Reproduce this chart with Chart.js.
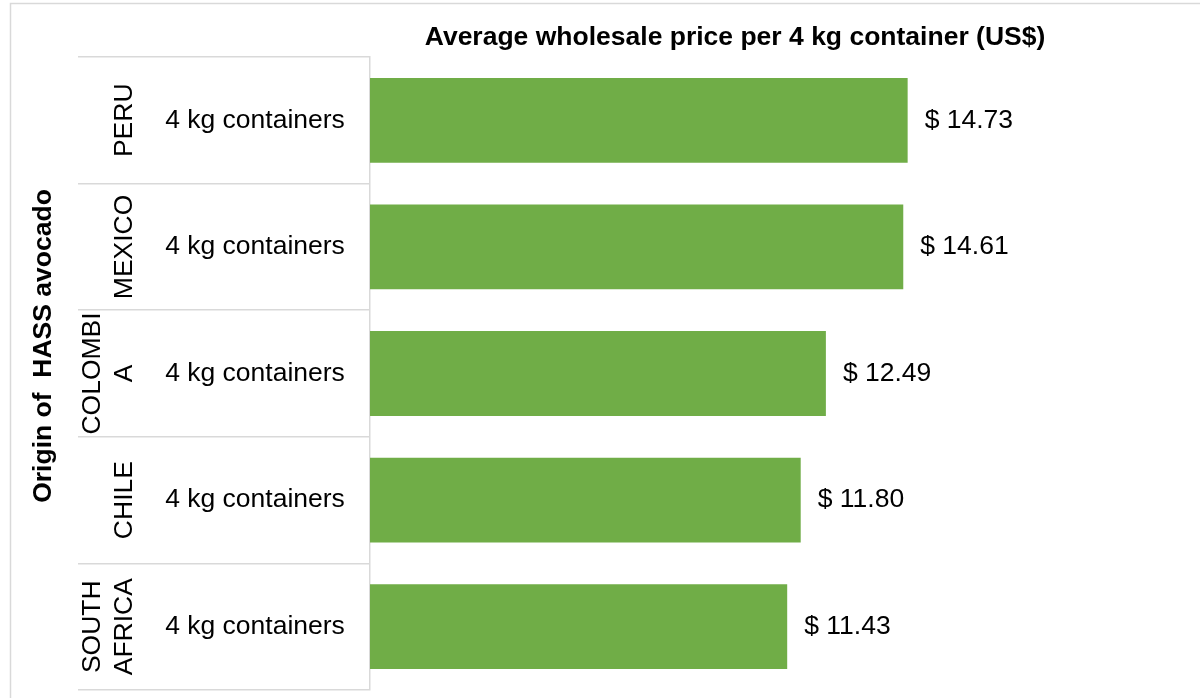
<!DOCTYPE html>
<html>
<head>
<meta charset="utf-8">
<title>HASS avocado wholesale price</title>
<script src="https://cdn.jsdelivr.net/npm/chart.js@4"></script>
<style>
  html, body { margin: 0; padding: 0; background: #ffffff; }
  canvas { display: block; }
</style>
</head>
<body>
<canvas id="priceChart" width="1200" height="698"></canvas>
<script>
/* Chart data */
const countries = ['PERU', 'MEXICO', 'COLOMBIA', 'CHILE', 'SOUTH AFRICA'];
const countryLines = [['PERU'], ['MEXICO'], ['COLOMBI', 'A'], ['CHILE'], ['SOUTH', 'AFRICA']];
const packLabels = ['4 kg containers', '4 kg containers', '4 kg containers', '4 kg containers', '4 kg containers'];
const prices = [14.73, 14.61, 12.49, 11.80, 11.43];

const FONT = "'Liberation Sans', Arial, sans-serif";
const GRID = '#d9d9d9';

/* draws the outer frame behind everything */
const framePlugin = {
    id: 'frame',
    beforeDraw(chart) {
        const ctx = chart.ctx;
        ctx.save();
        ctx.strokeStyle = GRID;
        ctx.lineWidth = 1.5;
        ctx.strokeRect(10.5, 3.5, 1400, 900);
        ctx.restore();
    }
};

/* multi-level category labels, axis title and value labels */
const labelPlugin = {
    id: 'labels',
    afterDraw(chart) {
        const ctx = chart.ctx;
        const yScale = chart.scales.y;
        const meta = chart.getDatasetMeta(0);
        ctx.save();
        ctx.fillStyle = '#000000';
        ctx.font = '26.5px ' + FONT;

        countries.forEach((c, i) => {
            const y = yScale.getPixelForValue(i);

            // sub-category
            ctx.textAlign = 'center';
            ctx.textBaseline = 'middle';
            ctx.fillText(packLabels[i], 255, y);

            // country, rotated
            const lines = countryLines[i];
            lines.forEach((line, k) => {
                const x = 125 - (lines.length - 1 - k) * 32;
                ctx.save();
                ctx.translate(x, y);
                ctx.rotate(-Math.PI / 2);
                ctx.fillText(line, 0, 0);
                ctx.restore();
            });

            // value label
            const bar = meta.data[i];
            ctx.textAlign = 'left';
            ctx.fillText('$ ' + prices[i].toFixed(2), bar.x + 17, y);
        });

        // axis title
        ctx.font = 'bold 26.5px ' + FONT;
        ctx.textAlign = 'center';
        ctx.save();
        ctx.translate(44, 346);
        ctx.rotate(-Math.PI / 2);
        ctx.fillText('Origin of  HASS avocado', 0, 0);
        ctx.restore();

        ctx.restore();
    }
};

const ctx = document.getElementById('priceChart').getContext('2d');

new Chart(ctx, {
    type: 'bar',
    data: {
        labels: countries,
        datasets: [{
            label: 'Average wholesale price',
            data: prices,
            backgroundColor: '#70ad47',
            borderWidth: 0,
            barPercentage: 0.67,
            categoryPercentage: 1.0
        }]
    },
    options: {
        indexAxis: 'y',
        responsive: false,
        animation: false,
        devicePixelRatio: 1,
        layout: {
            padding: { left: 10, right: 100, top: 0, bottom: 8 }
        },
        plugins: {
            legend: { display: false },
            tooltip: { enabled: false },
            title: {
                display: true,
                text: 'Average wholesale price per 4 kg container (US$)',
                fullSize: false,
                color: '#000000',
                font: { family: FONT, size: 26.5, weight: 'bold' },
                padding: { top: 22, bottom: 3.2 }
            }
        },
        scales: {
            x: {
                display: false,
                min: 0,
                max: 20
            },
            y: {
                offset: true,
                afterFit(scale) { scale.width = 360; },
                border: { display: true, color: GRID, width: 1.5 },
                grid: {
                    offset: true,
                    drawOnChartArea: false,
                    drawTicks: true,
                    tickLength: 292,
                    color: GRID,
                    lineWidth: 1.5
                },
                ticks: { display: false }
            }
        }
    },
    plugins: [framePlugin, labelPlugin]
});
</script>
</body>
</html>
